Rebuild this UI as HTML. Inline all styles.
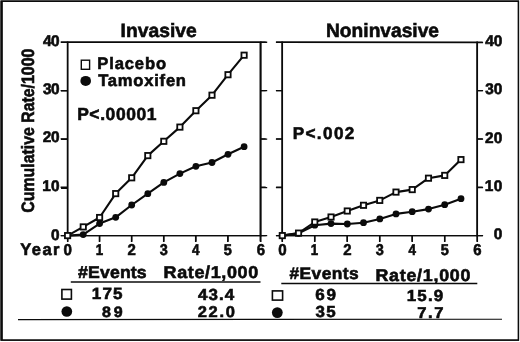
<!DOCTYPE html>
<html><head><meta charset="utf-8"><title>Cumulative rates</title>
<style>
html,body{margin:0;padding:0;background:#fff;}
svg{display:block;}
text{font-family:"Liberation Sans",Arial,Helvetica,sans-serif;font-weight:bold;fill:#0b0b0b;font-kerning:normal;text-rendering:geometricPrecision;stroke:#0b0b0b;stroke-width:0.6px;}
</style></head><body>
<svg width="520" height="342" viewBox="0 0 520 342">
<rect width="520" height="342" fill="#fff"/>
<path d="M0.5,0.4H519.1V340.7H0.5Z M2.6,2.1V339.4H517.8V2.1Z" fill="#0b0b0b" fill-rule="evenodd"/>
<path d="M67.6,41.475V236.325" fill="none" stroke="#0b0b0b" stroke-width="1.6"/>
<path d="M260.8,41.475V236.325M282.2,41.475V236.325" fill="none" stroke="#0b0b0b" stroke-width="1.7"/>
<path d="M477.2,41.475V236.325" fill="none" stroke="#0b0b0b" stroke-width="1.7"/>
<path d="M61.0,42.2H267.2M61.0,235.6H267.2M275.9,42.2L483.1,42.6M275.9,235.6H483.1" fill="none" stroke="#0b0b0b" stroke-width="1.45"/>
<path d="M61.0,188.20H67.6M260.8,187.65H267.2M275.9,187.65H282.2M477.3,187.65H483.1M61.0,139.20H67.6M260.8,139.05H267.2M275.9,139.05H282.2M477.3,139.05H483.1M61.0,90.80H67.6M260.8,90.65H267.2M275.9,90.65H282.2M477.3,90.65H483.1" fill="none" stroke="#0b0b0b" stroke-width="1.35"/>
<path d="M67.70,235.6V242.0M282.30,235.6V242.0M99.50,235.6V242.0M314.70,235.6V242.0M131.60,235.6V242.0M347.20,235.6V242.0M163.70,235.6V242.0M379.70,235.6V242.0M195.70,235.6V242.0M412.20,235.6V242.0M227.80,235.6V242.0M444.70,235.6V242.0M260.80,235.6V242.0M477.30,235.6V242.0" fill="none" stroke="#0b0b0b" stroke-width="1.5"/>
<path d="M0.5,0.4H519.1V340.7H0.5Z M2.6,2.1V339.4H517.8V2.1Z" fill="#0b0b0b" fill-rule="evenodd"/>
<path d="M67.6,42.2V235.6M260.2,42.2V235.6M60.599999999999994,42.2H265.7M60.599999999999994,235.6H265.7M60.599999999999994,187.25H67.6M260.2,187.25H265.7M60.599999999999994,138.90H67.6M260.2,138.90H265.7M60.599999999999994,90.55H67.6M260.2,90.55H265.7M67.60,235.6V241.6M99.60,235.6V241.6M131.70,235.6V241.6M163.80,235.6V241.6M195.90,235.6V241.6M228.00,235.6V241.6M260.20,235.6V241.6M282.3,42.2V235.6M477.2,42.2V235.6M276.1,42.2H482.7M276.1,235.6H482.7M276.1,187.25H282.3M477.2,187.25H482.7M276.1,138.90H282.3M477.2,138.90H482.7M276.1,90.55H282.3M477.2,90.55H482.7M282.30,235.6V241.6M314.78,235.6V241.6M347.27,235.6V241.6M379.75,235.6V241.6M412.23,235.6V241.6M444.72,235.6V241.6M477.20,235.6V241.6" fill="none" stroke="#0b0b0b" stroke-width="1.3"/>
<polyline points="67.6,235.6 83.2,234.6 99.6,223.6 115.7,217.3 131.7,205.0 147.8,193.7 163.8,182.4 179.9,173.6 195.9,166.3 212.0,162.5 228.0,154.3 244.1,146.7" fill="none" stroke="#0b0b0b" stroke-width="2.1" stroke-linejoin="round"/>
<circle cx="67.6" cy="235.6" r="3.4" fill="#0b0b0b"/>
<circle cx="83.2" cy="234.6" r="3.4" fill="#0b0b0b"/>
<circle cx="99.6" cy="223.6" r="3.4" fill="#0b0b0b"/>
<circle cx="115.7" cy="217.3" r="3.4" fill="#0b0b0b"/>
<circle cx="131.7" cy="205.0" r="3.4" fill="#0b0b0b"/>
<circle cx="147.8" cy="193.7" r="3.4" fill="#0b0b0b"/>
<circle cx="163.8" cy="182.4" r="3.4" fill="#0b0b0b"/>
<circle cx="179.9" cy="173.6" r="3.4" fill="#0b0b0b"/>
<circle cx="195.9" cy="166.3" r="3.4" fill="#0b0b0b"/>
<circle cx="212.0" cy="162.5" r="3.4" fill="#0b0b0b"/>
<circle cx="228.0" cy="154.3" r="3.4" fill="#0b0b0b"/>
<circle cx="244.1" cy="146.7" r="3.4" fill="#0b0b0b"/>
<polyline points="67.6,235.6 83.2,226.9 99.6,217.5 115.7,193.6 131.7,177.8 147.8,155.6 163.8,141.3 179.9,127.1 195.9,110.7 212.0,95.2 228.0,74.7 244.1,55.2" fill="none" stroke="#0b0b0b" stroke-width="2.1" stroke-linejoin="round"/>
<rect x="64.95" y="232.95" width="5.3" height="5.3" fill="#fff" stroke="#0b0b0b" stroke-width="1.8"/>
<rect x="80.60" y="224.25" width="5.3" height="5.3" fill="#fff" stroke="#0b0b0b" stroke-width="1.8"/>
<rect x="96.95" y="214.85" width="5.3" height="5.3" fill="#fff" stroke="#0b0b0b" stroke-width="1.8"/>
<rect x="113.05" y="190.95" width="5.3" height="5.3" fill="#fff" stroke="#0b0b0b" stroke-width="1.8"/>
<rect x="129.05" y="175.15" width="5.3" height="5.3" fill="#fff" stroke="#0b0b0b" stroke-width="1.8"/>
<rect x="145.15" y="152.95" width="5.3" height="5.3" fill="#fff" stroke="#0b0b0b" stroke-width="1.8"/>
<rect x="161.15" y="138.65" width="5.3" height="5.3" fill="#fff" stroke="#0b0b0b" stroke-width="1.8"/>
<rect x="177.25" y="124.45" width="5.3" height="5.3" fill="#fff" stroke="#0b0b0b" stroke-width="1.8"/>
<rect x="193.25" y="108.05" width="5.3" height="5.3" fill="#fff" stroke="#0b0b0b" stroke-width="1.8"/>
<rect x="209.35" y="92.55" width="5.3" height="5.3" fill="#fff" stroke="#0b0b0b" stroke-width="1.8"/>
<rect x="225.35" y="72.05" width="5.3" height="5.3" fill="#fff" stroke="#0b0b0b" stroke-width="1.8"/>
<rect x="241.45" y="52.55" width="5.3" height="5.3" fill="#fff" stroke="#0b0b0b" stroke-width="1.8"/>
<polyline points="282.3,235.6 298.5,233.3 314.8,225.2 331.0,223.6 347.3,224.0 363.5,222.7 379.8,218.9 396.0,213.9 412.2,211.7 428.5,209.1 444.7,204.7 461.0,198.7" fill="none" stroke="#0b0b0b" stroke-width="2.1" stroke-linejoin="round"/>
<circle cx="282.3" cy="235.6" r="3.4" fill="#0b0b0b"/>
<circle cx="298.5" cy="233.3" r="3.4" fill="#0b0b0b"/>
<circle cx="314.8" cy="225.2" r="3.4" fill="#0b0b0b"/>
<circle cx="331.0" cy="223.6" r="3.4" fill="#0b0b0b"/>
<circle cx="347.3" cy="224.0" r="3.4" fill="#0b0b0b"/>
<circle cx="363.5" cy="222.7" r="3.4" fill="#0b0b0b"/>
<circle cx="379.8" cy="218.9" r="3.4" fill="#0b0b0b"/>
<circle cx="396.0" cy="213.9" r="3.4" fill="#0b0b0b"/>
<circle cx="412.2" cy="211.7" r="3.4" fill="#0b0b0b"/>
<circle cx="428.5" cy="209.1" r="3.4" fill="#0b0b0b"/>
<circle cx="444.7" cy="204.7" r="3.4" fill="#0b0b0b"/>
<circle cx="461.0" cy="198.7" r="3.4" fill="#0b0b0b"/>
<polyline points="282.3,235.6 298.5,233.1 314.8,222.0 331.0,217.0 347.3,211.0 363.5,205.3 379.8,200.4 396.0,192.1 412.2,189.6 428.5,178.2 444.7,175.4 461.0,159.6" fill="none" stroke="#0b0b0b" stroke-width="2.1" stroke-linejoin="round"/>
<rect x="279.65" y="232.95" width="5.3" height="5.3" fill="#fff" stroke="#0b0b0b" stroke-width="1.8"/>
<rect x="295.89" y="230.45" width="5.3" height="5.3" fill="#fff" stroke="#0b0b0b" stroke-width="1.8"/>
<rect x="312.13" y="219.35" width="5.3" height="5.3" fill="#fff" stroke="#0b0b0b" stroke-width="1.8"/>
<rect x="328.38" y="214.35" width="5.3" height="5.3" fill="#fff" stroke="#0b0b0b" stroke-width="1.8"/>
<rect x="344.62" y="208.35" width="5.3" height="5.3" fill="#fff" stroke="#0b0b0b" stroke-width="1.8"/>
<rect x="360.86" y="202.65" width="5.3" height="5.3" fill="#fff" stroke="#0b0b0b" stroke-width="1.8"/>
<rect x="377.10" y="197.75" width="5.3" height="5.3" fill="#fff" stroke="#0b0b0b" stroke-width="1.8"/>
<rect x="393.34" y="189.45" width="5.3" height="5.3" fill="#fff" stroke="#0b0b0b" stroke-width="1.8"/>
<rect x="409.58" y="186.95" width="5.3" height="5.3" fill="#fff" stroke="#0b0b0b" stroke-width="1.8"/>
<rect x="425.83" y="175.55" width="5.3" height="5.3" fill="#fff" stroke="#0b0b0b" stroke-width="1.8"/>
<rect x="442.07" y="172.75" width="5.3" height="5.3" fill="#fff" stroke="#0b0b0b" stroke-width="1.8"/>
<rect x="458.31" y="156.95" width="5.3" height="5.3" fill="#fff" stroke="#0b0b0b" stroke-width="1.8"/>
<text transform="translate(120.61,36.80) scale(1.0042,1)" font-size="19.19">Invasive</text>
<text transform="translate(326.02,36.90) scale(0.9926,1)" font-size="19.33">Noninvasive</text>
<rect x="81.3" y="60.2" width="8.3" height="9.1" fill="#fff" stroke="#0b0b0b" stroke-width="1.4"/>
<ellipse cx="85.7" cy="80.9" rx="5.3" ry="5.0" fill="#0b0b0b"/>
<text transform="translate(97.29,69.20) scale(1.0000,1)" font-size="16.57" letter-spacing="0.869">Placebo</text>
<text transform="translate(98.21,85.80) scale(1.0000,1)" font-size="16.57" letter-spacing="0.772">Tamoxifen</text>
<text transform="translate(77.13,120.10) scale(1.0000,1)" font-size="17.44" letter-spacing="0.612">P&lt;.00001</text>
<text transform="translate(292.65,139.40) scale(1.0000,1)" font-size="17.15" letter-spacing="1.379">P&lt;.002</text>
<text transform="translate(33.90,212.65) rotate(-90) scale(0.8879,1)" font-size="17.88">Cumulative Rate/1000</text>
<text transform="translate(43.07,45.70) scale(1.0000,1)" font-size="15.41" letter-spacing="-0.672">40</text>
<text transform="translate(42.95,94.05) scale(1.0000,1)" font-size="15.41" letter-spacing="-0.552">30</text>
<text transform="translate(42.77,142.40) scale(1.0000,1)" font-size="15.41" letter-spacing="-0.371">20</text>
<text transform="translate(42.33,190.75) scale(1.0000,1)" font-size="15.41" letter-spacing="0.065">10</text>
<text transform="translate(50.99,239.50) scale(1.0000,1)" font-size="15.41">0</text>
<text transform="translate(485.37,46.00) scale(1.0000,1)" font-size="15.41" letter-spacing="-0.172">40</text>
<text transform="translate(485.25,94.35) scale(1.0000,1)" font-size="15.41" letter-spacing="-0.052">30</text>
<text transform="translate(485.07,142.70) scale(1.0000,1)" font-size="15.41" letter-spacing="0.129">20</text>
<text transform="translate(484.63,191.05) scale(1.0000,1)" font-size="15.41" letter-spacing="0.565">10</text>
<text transform="translate(493.69,239.40) scale(1.0000,1)" font-size="15.41">0</text>
<text transform="translate(20.32,255.30) scale(1.0000,1)" font-size="16.57" letter-spacing="1.372">Year</text>
<text transform="translate(63.60,254.70) scale(0.9689,1)" font-size="15.63">0</text>
<text transform="translate(278.20,254.70) scale(0.9689,1)" font-size="15.63">0</text>
<text transform="translate(95.66,254.70) scale(0.8527,1)" font-size="15.63">1</text>
<text transform="translate(310.86,254.70) scale(0.8527,1)" font-size="15.63">1</text>
<text transform="translate(127.58,254.70) scale(0.9571,1)" font-size="15.63">2</text>
<text transform="translate(343.18,254.70) scale(0.9571,1)" font-size="15.63">2</text>
<text transform="translate(159.87,254.70) scale(0.9270,1)" font-size="15.63">3</text>
<text transform="translate(375.87,254.70) scale(0.9270,1)" font-size="15.63">3</text>
<text transform="translate(192.00,254.70) scale(0.8603,1)" font-size="15.63">4</text>
<text transform="translate(408.50,254.70) scale(0.8603,1)" font-size="15.63">4</text>
<text transform="translate(223.85,254.70) scale(0.9261,1)" font-size="15.63">5</text>
<text transform="translate(440.75,254.70) scale(0.9261,1)" font-size="15.63">5</text>
<text transform="translate(256.75,254.70) scale(0.9533,1)" font-size="15.63">6</text>
<text transform="translate(473.25,254.70) scale(0.9533,1)" font-size="15.63">6</text>
<text transform="translate(78.00,277.60) scale(1.0400,1)" font-size="17.01" letter-spacing="0.143">#Events</text>
<text transform="translate(163.60,278.40) scale(1.0500,1)" font-size="17.15" letter-spacing="0.586">Rate/1,000</text>
<path d="M70.8,282.0H260.5" stroke="#0b0b0b" stroke-width="1.7"/>
<rect x="61.9" y="289.5" width="9.5" height="9.6" fill="#fff" stroke="#0b0b0b" stroke-width="1.6"/>
<circle cx="66.8" cy="311.5" r="5.35" fill="#0b0b0b"/>
<text transform="translate(91.82,298.90) scale(1.0600,1)" font-size="16.13" letter-spacing="1.000">175</text>
<text transform="translate(102.09,316.50) scale(1.0600,1)" font-size="15.12" letter-spacing="2.529">89</text>
<text transform="translate(198.04,299.60) scale(1.0600,1)" font-size="15.99" letter-spacing="1.026">43.4</text>
<text transform="translate(197.73,317.00) scale(1.0600,1)" font-size="15.55" letter-spacing="1.623">22.0</text>
<text transform="translate(289.50,279.20) scale(1.0400,1)" font-size="16.72" letter-spacing="0.390">#Events</text>
<text transform="translate(375.41,280.50) scale(1.0500,1)" font-size="17.01" letter-spacing="0.707">Rate/1,000</text>
<path d="M281.3,283.5H477.3" stroke="#0b0b0b" stroke-width="1.7"/>
<rect x="272.4" y="290.9" width="10.2" height="9.2" fill="#fff" stroke="#0b0b0b" stroke-width="1.6"/>
<circle cx="277.3" cy="312.6" r="5.4" fill="#0b0b0b"/>
<text transform="translate(315.17,300.20) scale(1.0600,1)" font-size="16.13" letter-spacing="1.640">69</text>
<text transform="translate(315.41,317.00) scale(1.0600,1)" font-size="15.99" letter-spacing="1.424">35</text>
<text transform="translate(406.63,300.60) scale(1.0600,1)" font-size="15.99" letter-spacing="1.136">15.9</text>
<text transform="translate(417.29,317.80) scale(1.0600,1)" font-size="15.70" letter-spacing="1.422">7.7</text>
<path d="M18,319.6L260,319.4L502,319.2" fill="none" stroke="#0b0b0b" stroke-width="1.15"/>
</svg>
</body></html>
